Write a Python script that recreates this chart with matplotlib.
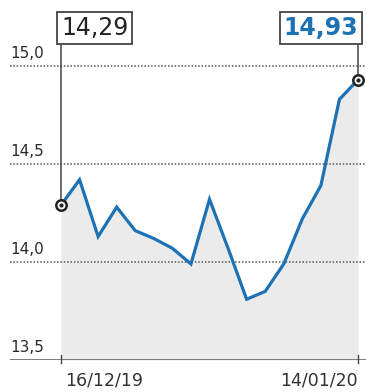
import matplotlib
matplotlib.use("Agg")
import matplotlib.pyplot as plt
from matplotlib.transforms import blended_transform_factory

# kurs dzienny, 16/12/19 - 14/01/20
values = [14.29, 14.42, 14.13, 14.28, 14.16, 14.12, 14.07, 13.99, 14.32,
          14.07, 13.81, 13.85, 13.99, 14.22, 14.39, 14.83, 14.93]
grid_levels = [15.0, 14.5, 14.0]
ytick_labels = ["15,0", "14,5", "14,0", "13,5"]
ytick_values = [15.0, 14.5, 14.0, 13.5]
date_labels = ["16/12/19", "14/01/20"]
first_label = "14,29"
last_label = "14,93"

blue = "#1c72b4"
dark = "#444444"

W, H = 366, 392
fig = plt.figure(figsize=(W / 100, H / 100), dpi=100)
ax = fig.add_axes([10 / W, 32 / H, 356 / W, 360 / H])
n = len(values)
xs = list(range(n))
step = 297 / (n - 1)
ax.set_xlim(-51 / step, (n - 1) + 8 / step)
ax.set_ylim(13.5, 13.5 + 360 / 196)
ax.axis("off")

# szare tlo pod linia
ax.fill_between(xs, values, 13.5, color="#ebebeb", lw=0, zorder=1)

for g in grid_levels:
    ax.axhline(g, color="#555555", lw=1.1, ls=(0, (1, 1.2)), zorder=2)
ax.axhline(13.5, color="#666666", lw=1.2, zorder=2)

tr = blended_transform_factory(ax.transAxes, ax.transData)
for v, lab in zip(ytick_values, ytick_labels):
    ax.text(0, v + 0.025, lab, transform=tr, ha="left", va="bottom",
            fontsize=11, color="#2a2a2a")

# linie prowadzace do etykiet
top = 15 + 21 / 196
ax.plot([0, 0], [values[0], top], color=dark, lw=1.1, zorder=3)
ax.plot([n - 1, n - 1], [values[-1], top], color=dark, lw=1.1, zorder=3)

ax.plot(xs, values, color=blue, lw=2.3, solid_joinstyle="miter", zorder=4)
ax.plot([0, n - 1], [values[0], values[-1]], "o", ms=7.5, mfc="white",
        mec="#222222", mew=1.8, zorder=5)
ax.plot([0, n - 1], [values[0], values[-1]], "o", ms=2, color="#222222", zorder=6)

# ramki z wartosciami
ytop = 15 + 38 / 196
ax.text(0, ytop, first_label, ha="left", va="center", fontsize=17,
        color="#222222", zorder=6,
        bbox=dict(boxstyle="square,pad=0.15", fc="white", ec=dark, lw=1.3))
ax.text(n - 1, ytop, last_label, ha="right", va="center", fontsize=17,
        fontweight="bold", color=blue, zorder=6,
        bbox=dict(boxstyle="square,pad=0.15", fc="white", ec=dark, lw=1.3))

# daty pod osia
ax.plot([0, 0], [13.5 - 3 / 196, 13.5 + 5 / 196], color=dark, lw=1, clip_on=False)
ax.plot([n - 1, n - 1], [13.5 - 3 / 196, 13.5 + 5 / 196], color=dark, lw=1, clip_on=False)
ax.text(0.2, 13.5 - 12 / 196, date_labels[0], ha="left", va="top",
        fontsize=12.5, color="#333333", clip_on=False)
ax.text(n - 1, 13.5 - 12 / 196, date_labels[1], ha="right", va="top",
        fontsize=12.5, color="#333333", clip_on=False)

fig.savefig("out.png", dpi=100, facecolor="white")
